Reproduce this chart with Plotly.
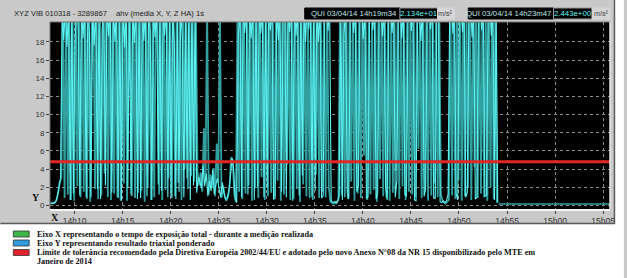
import plotly.graph_objects as go
import pandas as pd

# ---------------- data ----------------
date = "2014-04-03"
sample_period = "10s"
teal_start = f"{date} 14:07:27"
cyan_start = f"{date} 14:07:32"

teal_values = [
    0.2, 0.3, 0.2, 0.3, 0.6, 1.4, 2.6, 3.1, 22, 0.8,
    22, 1.2, 22, 0.6, 22, 0.5, 22, 2.1, 22, 0.9,
    22, 1.5, 22, 0.7, 22, 0.4, 22, 22, 1.8, 22,
    0.7, 22, 1.1, 22, 3.5, 22, 0.9, 22, 0.6, 22,
    1.3, 22, 0.9, 22, 0.5, 22, 2.4, 22, 0.5, 22,
    22, 1.0, 22, 0.8, 22, 1.4, 22, 1.6, 22, 0.4,
    22, 2.0, 22, 0.6, 22, 0.9, 22, 22, 1.2, 22,
    0.6, 22, 1.7, 22, 3.0, 22, 0.8, 22, 1.0, 22,
    2.5, 22, 0.6, 22, 4.0, 22, 1.8, 22, 3.2, 22,
    2.6, 22, 3.8, 2.2, 3.6, 1.5, 8.5, 2.8, 22, 1.2,
    3.4, 2.0, 4.1, 1.0, 6.8, 2.5, 22, 0.8, 2.2, 1.0,
    0.5, 0.9, 2.0, 5.3, 5.0, 1.2, 0.4, 22, 1.5, 22,
    0.7, 22, 1.3, 22, 2.2, 22, 0.5, 22, 1.9, 22,
    0.8, 22, 3.1, 22, 0.6, 22, 1.0, 22, 1.4, 22,
    0.9, 22, 2.7, 22, 0.5, 22, 1.2, 22, 4.5, 22,
    0.6, 22, 0.7, 22, 1.8, 22, 0.4, 22, 2.3, 22,
    1.0, 22, 0.8, 22, 0.6, 22, 3.4, 22, 0.8, 22,
    1.5, 22, 0.9, 22, 2.0, 0.4, 0.3, 0.2, 0.4, 0.3,
    0.6, 22, 1.1, 22, 0.9, 22, 0.7, 22, 2.6, 22,
    0.5, 22, 1.3, 22, 0.8, 22, 5.5, 22, 0.6, 22,
    1.2, 22, 1.7, 22, 0.4, 22, 2.9, 22, 1.0, 22,
    0.8, 22, 0.5, 22, 1.4, 22, 3.8, 22, 0.7, 22,
    2.1, 22, 0.6, 22, 1.5, 22, 1.2, 22, 0.9, 22,
    6.2, 22, 0.8, 22, 1.6, 22, 0.5, 22, 1.1, 22,
    2.4, 22, 0.9, 22, 1.2, 0.5, 0.3, 0.2, 0.4, 0.6,
    22, 1.1, 22, 0.7, 22, 2.8, 22, 0.5, 22, 1.0,
    22, 1.9, 22, 0.6, 22, 4.2, 22, 0.8, 22, 1.3,
    22, 0.9, 22, 0.5, 22, 2.0, 22, 0.7, 22, 0.3,
]

cyan_values = [
    0.2, 0.2, 0.3, 0.4, 1.0, 2.0, 2.9, 22, 18.2, 22,
    17.5, 22, 0.6, 22, 1.3, 17.8, 22, 19.5, 1.1, 22,
    18.4, 22, 0.9, 22, 19.2, 0.9, 22, 17.6, 22, 1.8,
    22, 0.7, 19.4, 22, 2.2, 22, 18.6, 22, 1.4, 22,
    18.0, 22, 0.8, 22, 0.5, 22, 17.4, 22, 1.9, 22,
    1.2, 22, 17.9, 22, 0.7, 22, 0.8, 22, 18.1, 22,
    1.0, 22, 19.0, 0.6, 22, 18.5, 22, 2.3, 22, 1.6,
    22, 18.7, 22, 0.9, 22, 0.9, 22, 17.8, 0.7, 22,
    1.5, 22, 18.3, 0.9, 22, 3.0, 22, 0.6, 22, 2.2,
    22, 1.4, 3.1, 2.6, 1.9, 4.4, 2.1, 3.5, 1.0, 2.7,
    1.6, 3.9, 1.2, 2.3, 3.0, 1.8, 0.9, 2.5, 1.4, 0.7,
    0.8, 1.5, 3.0, 5.2, 4.1, 0.8, 0.3, 18.6, 22, 0.9,
    22, 19.0, 22, 1.2, 22, 18.4, 22, 0.6, 22, 2.0,
    22, 18.9, 22, 0.9, 22, 2.0, 22, 19.3, 22, 0.7,
    0.8, 22, 18.2, 22, 1.5, 22, 22, 0.9, 22, 19.1,
    22, 0.5, 22, 18.7, 22, 1.1, 22, 3.3, 22, 18.0,
    22, 19.4, 22, 0.9, 22, 1.6, 22, 18.0, 22, 0.8,
    1.1, 22, 22, 19.2, 22, 0.5, 0.3, 0.4, 0.2, 0.5,
    1.0, 22, 0.6, 18.8, 22, 1.4, 0.7, 22, 22, 19.0,
    22, 1.5, 2.2, 22, 22, 18.3, 22, 0.8, 0.9, 22,
    22, 19.3, 22, 0.7, 1.3, 22, 22, 18.6, 22, 1.9,
    0.6, 22, 22, 19.0, 22, 0.9, 2.7, 22, 22, 18.4,
    22, 1.2, 1.0, 22, 22, 19.2, 22, 0.6, 0.5, 22,
    22, 18.1, 22, 1.0, 1.8, 22, 22, 19.4, 22, 0.8,
    0.8, 22, 22, 0.4, 0.3, 0.5, 0.3, 0.5, 1.2, 22,
    22, 18.9, 22, 1.3, 0.6, 22, 22, 19.1, 22, 0.9,
    1.4, 22, 22, 18.5, 22, 0.7, 0.9, 22, 22, 19.3,
    22, 1.0, 1.1, 22, 22, 18.7, 22, 0.6, 22, 0.3,
]

tail_times = [f"{date} 14:54:07", f"{date} 15:05:43"]
tail_values = [0.15, 0.15]

limit_value = 4.8
x_range = [f"{date} 14:07:26", f"{date} 15:05:43"]
y_range = [-0.4, 20.2]
x_tick_times = [f"{date} 14:10", f"{date} 14:15", f"{date} 14:20", f"{date} 14:25",
                f"{date} 14:30", f"{date} 14:35", f"{date} 14:40", f"{date} 14:45",
                f"{date} 14:50", f"{date} 14:55", f"{date} 15:00", f"{date} 15:05"]
x_tick_labels = ["14h10", "14h15", "14h20", "14h25", "14h30", "14h35",
                 "14h40", "14h45", "14h50", "14h55", "15h00", "15h05"]
y_tick_values = [0, 2, 4, 6, 8, 10, 12, 14, 16, 18]

header_left = "XYZ VIB 010318 - 3289867"
header_mid = "ahv (media X, Y, Z HA) 1s"
cursor1_label, cursor1_value = "QUI 03/04/14 14h19m34", "2.134e+01"
cursor2_label, cursor2_value = "QUI 03/04/14 14h23m47", "2.443e+00"
unit = "m/s²"

legend_items = [
    ("#3cb54a", "Eixo X representando o tempo de exposição total - durante a medição realizada"),
    ("#2f9de0", "Eixo Y representando resultado triaxial ponderado"),
    ("#e3222c", "Limite de tolerância recomendado pela Diretiva Européia 2002/44/EU e adotado pelo novo Anexo N°08 da NR 15 disponibilizado pelo MTE em"),
]
legend_cont = "Janeiro de 2014"

# ---------------- geometry helpers ----------------
W, H = 627, 278
ML, MR, MT, MB = 50, 12, 22, 69
PW, PH = W - ML - MR, H - MT - MB


def px(x):
    return (x - ML) / PW


def py(y):
    return (H - MB - y) / PH


teal_times = pd.date_range(teal_start, periods=len(teal_values), freq=sample_period)
cyan_times = pd.date_range(cyan_start, periods=len(cyan_values), freq=sample_period)

TEAL = "#33a0a0"
CYAN = "#5cf2f2"

fig = go.Figure()
fig.add_trace(go.Scatter(x=teal_times, y=teal_values, mode="lines",
                         line=dict(color=TEAL, width=1.8, simplify=False), hoverinfo="skip"))
fig.add_trace(go.Scatter(x=cyan_times, y=cyan_values, mode="lines",
                         line=dict(color=CYAN, width=1.1, simplify=False), hoverinfo="skip"))
fig.add_trace(go.Scatter(x=tail_times, y=tail_values, mode="lines",
                         line=dict(color=TEAL, width=1.5), hoverinfo="skip"))
fig.add_trace(go.Scatter(x=x_range, y=[limit_value, limit_value], mode="lines",
                         line=dict(color="#e32626", width=3), hoverinfo="skip"))

shapes = []
annotations = []

# white page below / right of the grey panel
shapes.append(dict(type="rect", xref="paper", yref="paper", layer="above",
                   x0=px(-2), x1=px(W + 2), y0=py(224), y1=py(H + 2),
                   fillcolor="white", line=dict(width=0)))
shapes.append(dict(type="rect", xref="paper", yref="paper", layer="above",
                   x0=px(620), x1=px(W + 2), y0=py(-2), y1=py(224),
                   fillcolor="white", line=dict(width=0)))
shapes.append(dict(type="line", xref="paper", yref="paper", layer="above",
                   x0=px(0), x1=px(620), y0=py(223.5), y1=py(223.5),
                   line=dict(color="#5a5a5a", width=1.5)))
shapes.append(dict(type="line", xref="paper", yref="paper", layer="above",
                   x0=px(619.5), x1=px(619.5), y0=py(0), y1=py(224),
                   line=dict(color="#5a5a5a", width=1.5)))
# plot frame
shapes.append(dict(type="line", xref="paper", yref="paper", layer="above",
                   x0=0, x1=0, y0=0, y1=1, line=dict(color="#707070", width=1)))
shapes.append(dict(type="line", xref="paper", yref="paper", layer="above",
                   x0=0, x1=1, y0=1, y1=1, line=dict(color="#707070", width=1)))
shapes.append(dict(type="line", xref="paper", yref="paper", layer="above",
                   x0=1, x1=1, y0=0, y1=1, line=dict(color="#e8e8e8", width=1.5)))


def box(x0, x1, fill, border):
    shapes.append(dict(type="rect", xref="paper", yref="paper", layer="above",
                       x0=px(x0), x1=px(x1), y0=py(19), y1=py(8),
                       fillcolor=fill, line=dict(color=border, width=1)))


def text(x, y, s, size, color, anchor="left", family="Arial", bold=False):
    annotations.append(dict(xref="paper", yref="paper", x=px(x), y=py(y),
                            text=f"<b>{s}</b>" if bold else s, showarrow=False,
                            xanchor=anchor, yanchor="middle",
                            font=dict(family=family, size=size, color=color)))


box(307, 403, "#000000", "#000000")
box(403, 441, "#000000", "#9a9a9a")
box(441, 458, "#d6d6d6", "#d6d6d6")
box(472, 558, "#000000", "#000000")
box(558, 597, "#000000", "#9a9a9a")
box(597, 615, "#d6d6d6", "#d6d6d6")

text(12, 13.5, header_left, 7.6, "#1a1a1a")
text(115, 13.5, header_mid, 7.7, "#1a1a1a")
text(402, 13.5, cursor1_label, 7.8, "#bfe6e6", "right")
text(422, 13.5, cursor1_value, 7.8, "#5cf2f2", "center")
text(449.5, 13.5, unit, 7.2, "#404040", "center")
text(557, 13.5, cursor2_label, 7.8, "#bfe6e6", "right")
text(577.5, 13.5, cursor2_value, 7.8, "#5cf2f2", "center")
text(606, 13.5, unit, 7.2, "#404040", "center")

# axis letters
text(36, 197, "Y", 10, "#111111", "center", "Liberation Serif", True)
text(55, 217, "X", 10, "#111111", "center", "Liberation Serif", True)

# legend
rows_y = [234, 243, 252.5]
for (color, label), yy in zip(legend_items, rows_y):
    shapes.append(dict(type="rect", xref="paper", yref="paper", layer="above",
                       x0=px(13), x1=px(29), y0=py(yy + 3), y1=py(yy - 3),
                       fillcolor=color, line=dict(color="#333333", width=0.8)))
    text(35, yy, label, 8.2, "#111111", "left", "Liberation Serif", True)
text(35, 261.5, legend_cont, 8.2, "#111111", "left", "Liberation Serif", True)

fig.update_layout(
    width=W, height=H,
    margin=dict(l=ML, r=MR, t=MT, b=MB, pad=0),
    paper_bgcolor="#c9c9c9",
    plot_bgcolor="#000000",
    showlegend=False,
    shapes=shapes,
    annotations=annotations,
    xaxis=dict(type="date", range=x_range, tickvals=x_tick_times, ticktext=x_tick_labels,
               showgrid=True, gridcolor="#8c8c8c", griddash="dot", gridwidth=1,
               ticks="outside", ticklen=3, tickcolor="#404040",
               showline=True, linecolor="#f4f4f4", linewidth=2,
               tickfont=dict(family="Arial", size=8.5, color="#333333"),
               zeroline=False, fixedrange=True),
    yaxis=dict(range=y_range, tickvals=y_tick_values,
               showgrid=True, gridcolor="#8c8c8c", griddash="dot", gridwidth=1,
               ticks="outside", ticklen=3, tickcolor="#404040",
               tickfont=dict(family="Arial", size=8, color="#333333"),
               zeroline=False, showline=False, fixedrange=True),
)

fig.write_html("out.html")
